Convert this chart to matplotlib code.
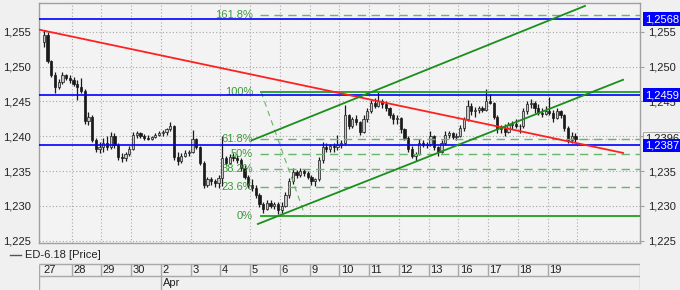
import matplotlib
matplotlib.use("Agg")
import matplotlib.pyplot as plt
import matplotlib.transforms as mtransforms
from matplotlib.lines import Line2D
import numpy as np

plt.rcParams['font.family'] = ['Liberation Sans', 'DejaVu Sans']

# ---------------- data ----------------
day_labels = ['27', '28', '29', '30', '2', '3', '4', '5', '6', '9', '10', '11', '12', '13', '16', '17', '18', '19']
month_label = 'Apr'
month_start_day = 4
bars_per_day = 8
series_name = 'ED-6.18 [Price]'

opens = [
    1.2535, 1.2545, 1.2508, 1.2488, 1.2470, 1.2478, 1.2488, 1.2484,
    1.2480, 1.2475, 1.2470, 1.2465, 1.2422, 1.2428, 1.2395, 1.2382,
    1.2385, 1.2390, 1.2384, 1.2400, 1.2388, 1.2370, 1.2368, 1.2374,
    1.2382, 1.2402, 1.2404, 1.2400, 1.2398, 1.2396, 1.2399, 1.2402,
    1.2404, 1.2406, 1.2410, 1.2414, 1.2370, 1.2364, 1.2372, 1.2376,
    1.2378, 1.2396, 1.2385, 1.2362, 1.2330, 1.2338, 1.2335, 1.2333,
    1.2340, 1.2368, 1.2362, 1.2370, 1.2368, 1.2366, 1.2354, 1.2342,
    1.2330, 1.2326, 1.2316, 1.2302, 1.2296, 1.2304, 1.2300, 1.2303,
    1.2294, 1.2300, 1.2316, 1.2336, 1.2348, 1.2345, 1.2350, 1.2347,
    1.2342, 1.2335, 1.2338, 1.2366, 1.2385, 1.2382, 1.2386, 1.2384,
    1.2388, 1.2390, 1.2430, 1.2415, 1.2424, 1.2420, 1.2406, 1.2425,
    1.2436, 1.2448, 1.2444, 1.2450, 1.2446, 1.2440, 1.2430, 1.2424,
    1.2426, 1.2410, 1.2398, 1.2382, 1.2372, 1.2375, 1.2390, 1.2387,
    1.2389, 1.2400, 1.2384, 1.2378, 1.2390, 1.2402, 1.2404, 1.2399,
    1.2401, 1.2412, 1.2424, 1.2444, 1.2436, 1.2438, 1.2440, 1.2438,
    1.2450, 1.2448, 1.2428, 1.2410, 1.2412, 1.2406, 1.2416, 1.2418,
    1.2415, 1.2414, 1.2436, 1.2446, 1.2448, 1.2440, 1.2434, 1.2432,
    1.2436, 1.2434, 1.2426, 1.2436, 1.2430, 1.2412, 1.2394, 1.2400,
]
highs = [
    1.2552, 1.2550, 1.2510, 1.2492, 1.2482, 1.2492, 1.2490, 1.2488,
    1.2485, 1.2480, 1.2483, 1.2468, 1.2435, 1.2430, 1.2398, 1.2392,
    1.2398, 1.2401, 1.2406, 1.2404, 1.2390, 1.2376, 1.2378, 1.2386,
    1.2406, 1.2407, 1.2406, 1.2403, 1.2402, 1.2401, 1.2405, 1.2407,
    1.2409, 1.2412, 1.2420, 1.2416, 1.2378, 1.2376, 1.2380, 1.2380,
    1.2409, 1.2398, 1.2386, 1.2364, 1.2342, 1.2341, 1.2339, 1.2345,
    1.2400, 1.2372, 1.2375, 1.2376, 1.2373, 1.2368, 1.2358, 1.2345,
    1.2338, 1.2330, 1.2318, 1.2306, 1.2308, 1.2308, 1.2306, 1.2305,
    1.2306, 1.2320, 1.2340, 1.2355, 1.2352, 1.2354, 1.2353, 1.2350,
    1.2345, 1.2340, 1.2370, 1.2392, 1.2390, 1.2389, 1.2390, 1.2402,
    1.2395, 1.2445, 1.2432, 1.2428, 1.2430, 1.2422, 1.2430, 1.2440,
    1.2452, 1.2455, 1.2464, 1.2454, 1.2450, 1.2442, 1.2434, 1.2430,
    1.2428, 1.2412, 1.2400, 1.2386, 1.2378, 1.2396, 1.2394, 1.2392,
    1.2408, 1.2402, 1.2386, 1.2395, 1.2408, 1.2407, 1.2406, 1.2404,
    1.2416, 1.2428, 1.2452, 1.2447, 1.2442, 1.2444, 1.2443, 1.2468,
    1.2460, 1.2449, 1.2430, 1.2416, 1.2418, 1.2420, 1.2422, 1.2424,
    1.2418, 1.2440, 1.2450, 1.2454, 1.2451, 1.2446, 1.2440, 1.2444,
    1.2456, 1.2437, 1.2440, 1.2438, 1.2432, 1.2414, 1.2406, 1.2405,
]
lows = [
    1.2528, 1.2505, 1.2485, 1.2462, 1.2468, 1.2475, 1.2480, 1.2476,
    1.2472, 1.2452, 1.2462, 1.2418, 1.2416, 1.2392, 1.2377, 1.2376,
    1.2378, 1.2380, 1.2382, 1.2383, 1.2366, 1.2363, 1.2365, 1.2372,
    1.2380, 1.2398, 1.2397, 1.2395, 1.2394, 1.2394, 1.2397, 1.2400,
    1.2400, 1.2402, 1.2408, 1.2366, 1.2359, 1.2362, 1.2370, 1.2371,
    1.2376, 1.2382, 1.2359, 1.2325, 1.2327, 1.2330, 1.2327, 1.2326,
    1.2328, 1.2358, 1.2360, 1.2364, 1.2362, 1.2350, 1.2338, 1.2325,
    1.2322, 1.2312, 1.2298, 1.2290, 1.2294, 1.2297, 1.2296, 1.2289,
    1.2290, 1.2298, 1.2312, 1.2332, 1.2340, 1.2342, 1.2343, 1.2338,
    1.2330, 1.2328, 1.2336, 1.2362, 1.2377, 1.2378, 1.2378, 1.2380,
    1.2383, 1.2388, 1.2410, 1.2412, 1.2416, 1.2402, 1.2404, 1.2420,
    1.2434, 1.2440, 1.2442, 1.2440, 1.2436, 1.2426, 1.2418, 1.2418,
    1.2405, 1.2394, 1.2378, 1.2368, 1.2364, 1.2373, 1.2384, 1.2383,
    1.2386, 1.2380, 1.2372, 1.2376, 1.2388, 1.2398, 1.2396, 1.2394,
    1.2399, 1.2408, 1.2422, 1.2430, 1.2428, 1.2434, 1.2435, 1.2436,
    1.2446, 1.2424, 1.2405, 1.2404, 1.2400, 1.2404, 1.2410, 1.2412,
    1.2404, 1.2412, 1.2432, 1.2440, 1.2434, 1.2430, 1.2428, 1.2430,
    1.2430, 1.2420, 1.2424, 1.2426, 1.2408, 1.2390, 1.2390, 1.2392,
]
closes = [
    1.2545, 1.2508, 1.2488, 1.2470, 1.2478, 1.2488, 1.2484, 1.2480,
    1.2475, 1.2470, 1.2465, 1.2422, 1.2428, 1.2395, 1.2382, 1.2385,
    1.2390, 1.2384, 1.2400, 1.2388, 1.2370, 1.2368, 1.2374, 1.2382,
    1.2402, 1.2404, 1.2400, 1.2398, 1.2396, 1.2399, 1.2402, 1.2404,
    1.2406, 1.2410, 1.2414, 1.2370, 1.2364, 1.2372, 1.2376, 1.2378,
    1.2396, 1.2385, 1.2362, 1.2330, 1.2338, 1.2335, 1.2333, 1.2340,
    1.2368, 1.2362, 1.2370, 1.2368, 1.2366, 1.2354, 1.2342, 1.2330,
    1.2326, 1.2316, 1.2302, 1.2296, 1.2304, 1.2300, 1.2303, 1.2294,
    1.2300, 1.2316, 1.2336, 1.2348, 1.2345, 1.2350, 1.2347, 1.2342,
    1.2335, 1.2338, 1.2366, 1.2385, 1.2382, 1.2386, 1.2384, 1.2388,
    1.2390, 1.2430, 1.2415, 1.2424, 1.2420, 1.2406, 1.2425, 1.2436,
    1.2448, 1.2444, 1.2450, 1.2446, 1.2440, 1.2430, 1.2424, 1.2426,
    1.2410, 1.2398, 1.2382, 1.2372, 1.2375, 1.2390, 1.2387, 1.2389,
    1.2400, 1.2384, 1.2378, 1.2390, 1.2402, 1.2404, 1.2399, 1.2401,
    1.2412, 1.2424, 1.2444, 1.2436, 1.2438, 1.2440, 1.2438, 1.2450,
    1.2448, 1.2428, 1.2410, 1.2412, 1.2406, 1.2416, 1.2418, 1.2415,
    1.2414, 1.2436, 1.2446, 1.2448, 1.2440, 1.2434, 1.2432, 1.2436,
    1.2434, 1.2426, 1.2436, 1.2430, 1.2412, 1.2394, 1.2400, 1.2396,
]

# horizontal (blue) levels and the last traded price
blue_levels = [1.2568, 1.2459, 1.2387]
last_price = 1.2396

# trend lines: (x0, y0, x1, y1) in day units / price
red_line = [-0.1, 1.2553, 19.54, 1.2376]
channel_lower = [7.26, 1.2274, 19.54, 1.2481]
channel_upper = [7.05, 1.2394, 18.26, 1.2587]

# Fibonacci retracement
fib_low = 1.22855
fib_high = 1.24635
fib_x_start = 7.33
fib_diag = [7.37, 8.85]
fib_ratios = [0.0, 0.236, 0.382, 0.5, 0.618, 1.0, 1.618]
fib_texts = ['0%', '23.6%', '38.2%', '50%', '61.8%', '100%', '161.8%']

y_ticks = [1.225, 1.230, 1.235, 1.240, 1.245, 1.250, 1.255]

# ---------------- layout ----------------
W, H = 680, 290
BG = '#f0f0f0'
GRID = '#a8a8a8'
fig = plt.figure(figsize=(W / 100, H / 100), dpi=100, facecolor=BG)
L, R, T, B = 39, 640, 3, 243
ax = fig.add_axes([L / W, 1 - B / H, (R - L) / W, (B - T) / H])
ax.set_facecolor('#f3f3f3')
ndays = len(day_labels)
XMIN, XMAX = -0.1, 20.11
ax.set_xlim(XMIN, XMAX)
ax.set_ylim(1.22467, 1.25912)

for s in ax.spines.values():
    s.set_color('#a0a0a0')
    s.set_linewidth(1.0)

# grid
for yv in y_ticks:
    ax.axhline(yv, color=GRID, lw=0.8, ls=(0, (1, 2)), zorder=1)
for d in range(1, ndays + 1):
    ax.axvline(d, color=GRID, lw=0.8, ls=(0, (1, 2)), zorder=1)

# candles
n = len(closes)
xs = np.array([i // bars_per_day + (i % bars_per_day + 0.5) / bars_per_day for i in range(n)])
o = np.array(opens); h = np.array(highs); l = np.array(lows); c = np.array(closes)
ax.vlines(xs, l, h, color='#1a1a1a', lw=0.9, zorder=3)
up = c >= o
bw = 0.075
body_lo = np.minimum(o, c)
body_h = np.maximum(np.abs(c - o), 0.00008)
ax.bar(xs[up], body_h[up], bottom=body_lo[up], width=bw, color='#c8c8c8',
       edgecolor='#1a1a1a', lw=0.5, zorder=4)
ax.bar(xs[~up], body_h[~up], bottom=body_lo[~up], width=bw, color='#1a1a1a',
       edgecolor='#1a1a1a', lw=0.5, zorder=4)

# last price dotted line
ax.hlines(last_price, xs[-1], XMAX, color=GRID, lw=0.8, ls=(0, (1, 2)), zorder=2)

# fibonacci
fib_col = '#66b866'
fib_txt = '#3a9a3a'
rng = fib_high - fib_low
for r, t in zip(fib_ratios, fib_texts):
    v = fib_low + r * rng
    if r in (0.0, 1.0):
        ax.hlines(v, fib_x_start, XMAX, color='#20a020', lw=1.3, zorder=5)
    else:
        ax.hlines(v, fib_x_start, XMAX, color=fib_col, lw=1.0, ls=(0, (6, 4)), zorder=5)
    ax.text(fib_x_start - 0.23, v, t, color=fib_txt, fontsize=8, ha='right', va='center', zorder=6)
ax.plot(fib_diag, [fib_high, fib_low], color=fib_col, lw=0.8, ls=(0, (5, 4)), zorder=5)

# blue levels
for v in blue_levels:
    ax.axhline(v, color='#0000ff', lw=1.2, zorder=6)

# trend lines
ax.plot(red_line[0::2], red_line[1::2], color='#ff2020', lw=1.3, zorder=7)
ax.plot(channel_lower[0::2], channel_lower[1::2], color='#1a8f1a', lw=1.3, zorder=7)
ax.plot(channel_upper[0::2], channel_upper[1::2], color='#1a8f1a', lw=1.3, zorder=7)

# y axis labels on both sides
def fmt(v, nd=3):
    return f"{v:.{nd}f}".replace('.', ',')

ax.set_yticks(y_ticks)
ax.set_yticklabels([fmt(v) for v in y_ticks])
ax.tick_params(axis='y', left=False, right=True, labelleft=True, labelright=True,
               length=3, color='#a0a0a0', labelsize=8, labelcolor='#222222', pad=3)
ax.set_xticks([])

# right-side value boxes
trans = mtransforms.blended_transform_factory(ax.transAxes, ax.transData)
ax.text(1.008, last_price, fmt(last_price, 4), transform=trans, fontsize=8, color='#222222',
        va='center', ha='left', clip_on=False, zorder=9,
        bbox=dict(boxstyle='square,pad=0.15', facecolor='#f0f0f0', edgecolor='#a0a0a0', lw=0.6))
for v in blue_levels:
    ax.text(1.008, v, fmt(v, 4), transform=trans, fontsize=8, color='white',
            va='center', ha='left', clip_on=False, zorder=10,
            bbox=dict(boxstyle='square,pad=0.15', facecolor='#0000ff', edgecolor='none'))

# legend row
fig.add_artist(Line2D([10 / W, 21 / W], [1 - 255 / H, 1 - 255 / H], color='#555555', lw=1.0))
fig.text(25 / W, 1 - 255 / H, series_name, fontsize=8, color='#222222', va='center', ha='left')

# date axis
ax2 = fig.add_axes([L / W, 0, (R - L) / W, 27 / H])
ax2.set_xlim(XMIN, XMAX)
ax2.set_ylim(0, 27)
ax2.axis('off')
lc = '#a8a8a8'
ax2.hlines([14, 26.5], XMIN, XMAX, color=lc, lw=1.0)
ax2.vlines([XMIN, XMAX], 0, 26.5, color=lc, lw=1.0)
for d in range(1, ndays):
    ax2.vlines(d, 14, 26.5, color=lc, lw=1.0)
ax2.vlines(month_start_day, 0, 14, color=lc, lw=1.0)
for d, lab in enumerate(day_labels):
    ax2.text(d + 0.05, 20.3, lab, fontsize=8, color='#222222', ha='left', va='center')
ax2.text(month_start_day + 0.07, 7, month_label, fontsize=8, color='#222222', ha='left', va='center')

fig.savefig('out.png', dpi=100, facecolor=BG)
